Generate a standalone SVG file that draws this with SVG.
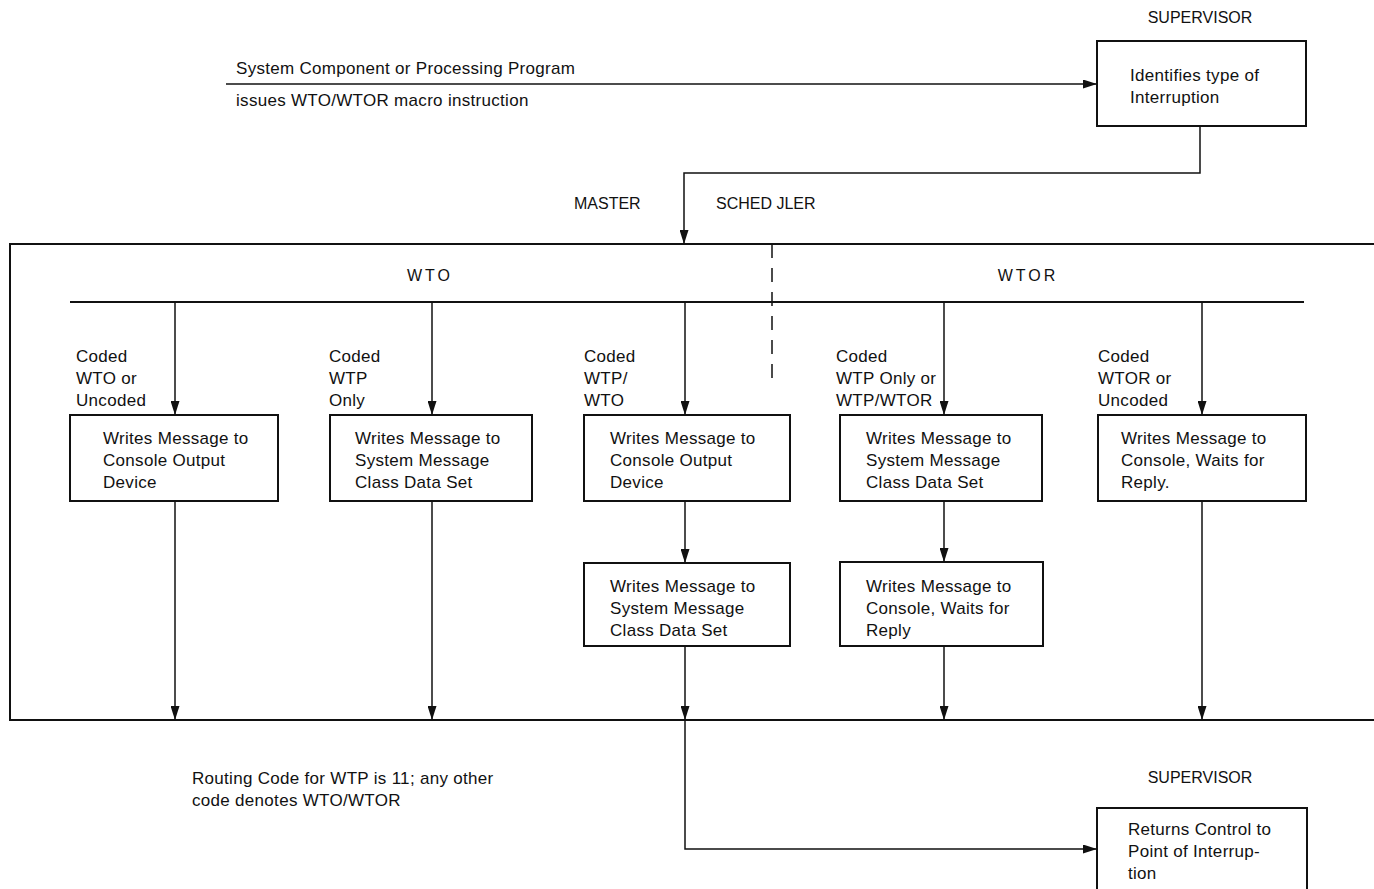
<svg xmlns="http://www.w3.org/2000/svg" width="1374" height="889" viewBox="0 0 1374 889">
  <style>
    text { font-family: "Liberation Sans", Arial, sans-serif; font-size: 17px; letter-spacing: 0.3px; fill: #111; }
    .cap { font-size: 16px; letter-spacing: 0; }
    .hdr { font-size: 16px; letter-spacing: 3px; }
    .box { fill: #fff; stroke: #111; stroke-width: 2; }
    .ln { fill: none; stroke: #111; stroke-width: 1.5; }
    .dash { fill: none; stroke: #111; stroke-width: 1.5; stroke-dasharray: 14 10; }
  </style>
  <defs>
    <marker id="arr" viewBox="0 0 14 9" refX="14" refY="4.5" markerWidth="14" markerHeight="9" markerUnits="userSpaceOnUse" orient="auto">
      <path d="M0,0 L14,4.5 L0,9 Z" fill="#111"/>
    </marker>
  </defs>
  <rect width="1374" height="889" fill="#fff"/>

  <!-- caller -->
  <g id="caller">
    <text x="236" y="74">System Component or Processing Program</text>
    <text x="236" y="106">issues WTO/WTOR macro instruction</text>
  </g>

  <!-- supervisor entry -->
  <g id="supervisor-in">
    <text class="cap" x="1200" y="23" text-anchor="middle">SUPERVISOR</text>
    <rect class="box" x="1097" y="41" width="209" height="85"/>
    <text x="1130" y="81">Identifies type of</text>
    <text x="1130" y="103">Interruption</text>
  </g>

  <!-- master scheduler frame -->
  <g id="master-scheduler">
    <text class="cap" x="574" y="209">MASTER</text>
    <text class="cap" x="716" y="209">SCHED JLER</text>
    <rect class="box" x="10" y="244" width="1366" height="476" fill="none"/>
    <line class="dash" x1="772" y1="244" x2="772" y2="386"/>
    <text class="hdr" x="430" y="281" text-anchor="middle">WTO</text>
    <text class="hdr" x="1028" y="281" text-anchor="middle">WTOR</text>
    <line x1="70" y1="302" x2="1304" y2="302" stroke="#111" stroke-width="2"/>
  </g>

  <g id="wto-console">
    <text x="76" y="362">Coded</text>
    <text x="76" y="384">WTO or</text>
    <text x="76" y="406">Uncoded</text>
    <rect class="box" x="70" y="415" width="208" height="86"/>
    <text x="103" y="444">Writes Message to</text>
    <text x="103" y="466">Console Output</text>
    <text x="103" y="488">Device</text>
  </g>

  <g id="wtp-only">
    <text x="329" y="362">Coded</text>
    <text x="329" y="384">WTP</text>
    <text x="329" y="406">Only</text>
    <rect class="box" x="330" y="415" width="202" height="86"/>
    <text x="355" y="444">Writes Message to</text>
    <text x="355" y="466">System Message</text>
    <text x="355" y="488">Class Data Set</text>
  </g>

  <g id="wtp-wto-console">
    <text x="584" y="362">Coded</text>
    <text x="584" y="384">WTP/</text>
    <text x="584" y="406">WTO</text>
    <rect class="box" x="584" y="415" width="206" height="86"/>
    <text x="610" y="444">Writes Message to</text>
    <text x="610" y="466">Console Output</text>
    <text x="610" y="488">Device</text>
  </g>

  <g id="wtp-wto-dataset">
    <rect class="box" x="584" y="563" width="206" height="83"/>
    <text x="610" y="592">Writes Message to</text>
    <text x="610" y="614">System Message</text>
    <text x="610" y="636">Class Data Set</text>
  </g>

  <g id="wtp-wtor-dataset">
    <text x="836" y="362">Coded</text>
    <text x="836" y="384">WTP Only or</text>
    <text x="836" y="406">WTP/WTOR</text>
    <rect class="box" x="840" y="415" width="202" height="86"/>
    <text x="866" y="444">Writes Message to</text>
    <text x="866" y="466">System Message</text>
    <text x="866" y="488">Class Data Set</text>
  </g>

  <g id="wtp-wtor-console">
    <rect class="box" x="840" y="562" width="203" height="84"/>
    <text x="866" y="592">Writes Message to</text>
    <text x="866" y="614">Console, Waits for</text>
    <text x="866" y="636">Reply</text>
  </g>

  <g id="wtor-console">
    <text x="1098" y="362">Coded</text>
    <text x="1098" y="384">WTOR or</text>
    <text x="1098" y="406">Uncoded</text>
    <rect class="box" x="1098" y="415" width="208" height="86"/>
    <text x="1121" y="444">Writes Message to</text>
    <text x="1121" y="466">Console, Waits for</text>
    <text x="1121" y="488">Reply.</text>
  </g>

  <g id="note">
    <text x="192" y="784">Routing Code for WTP is 11; any other</text>
    <text x="192" y="806">code denotes WTO/WTOR</text>
  </g>

  <!-- supervisor return -->
  <g id="supervisor-out">
    <text class="cap" x="1200" y="783" text-anchor="middle">SUPERVISOR</text>
    <rect class="box" x="1097" y="808" width="210" height="90"/>
    <text x="1128" y="835">Returns Control to</text>
    <text x="1128" y="857">Point of Interrup-</text>
    <text x="1128" y="879">tion</text>
  </g>

  <g id="connectors">
    <line class="ln" x1="226" y1="84" x2="1097" y2="84" marker-end="url(#arr)"/>
    <polyline class="ln" points="1200,126 1200,173 684,173 684,244" marker-end="url(#arr)"/>

    <line class="ln" x1="175" y1="302" x2="175" y2="415" marker-end="url(#arr)"/>
    <line class="ln" x1="432" y1="302" x2="432" y2="415" marker-end="url(#arr)"/>
    <line class="ln" x1="685" y1="302" x2="685" y2="415" marker-end="url(#arr)"/>
    <line class="ln" x1="944" y1="302" x2="944" y2="415" marker-end="url(#arr)"/>
    <line class="ln" x1="1202" y1="302" x2="1202" y2="415" marker-end="url(#arr)"/>

    <line class="ln" x1="685" y1="501" x2="685" y2="563" marker-end="url(#arr)"/>
    <line class="ln" x1="944" y1="501" x2="944" y2="562" marker-end="url(#arr)"/>

    <line class="ln" x1="175" y1="501" x2="175" y2="720" marker-end="url(#arr)"/>
    <line class="ln" x1="432" y1="501" x2="432" y2="720" marker-end="url(#arr)"/>
    <line class="ln" x1="685" y1="646" x2="685" y2="720" marker-end="url(#arr)"/>
    <line class="ln" x1="944" y1="646" x2="944" y2="720" marker-end="url(#arr)"/>
    <line class="ln" x1="1202" y1="501" x2="1202" y2="720" marker-end="url(#arr)"/>

    <polyline class="ln" points="685,720 685,849 1097,849" marker-end="url(#arr)"/>
  </g>
</svg>
